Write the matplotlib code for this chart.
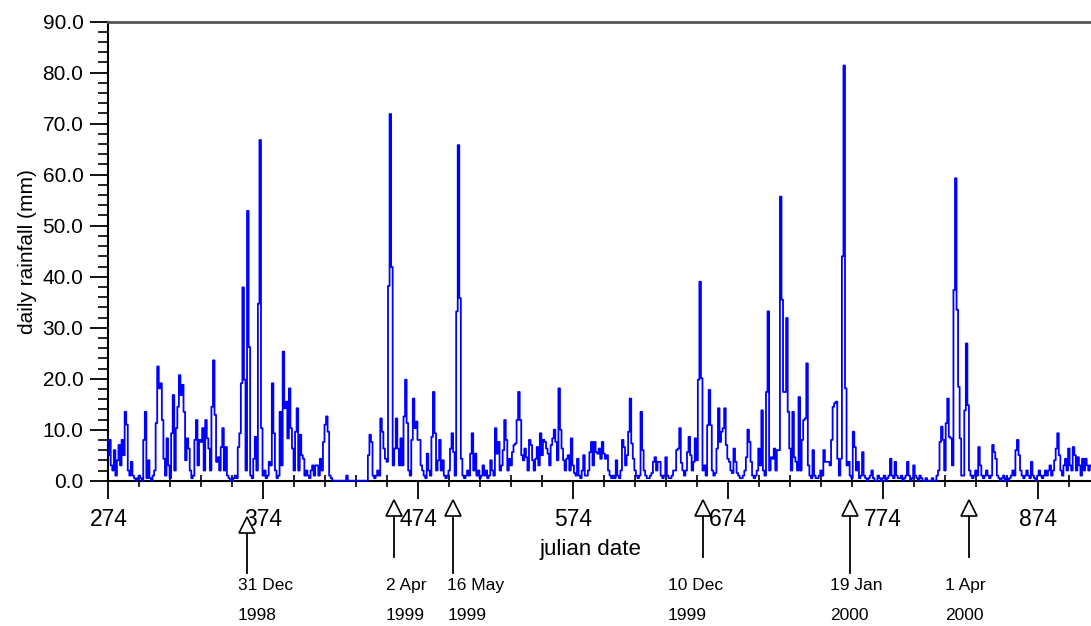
import numpy as np
import matplotlib
matplotlib.use('Agg')
import matplotlib.pyplot as plt

plt.rcParams['font.family'] = ['Liberation Sans', 'DejaVu Sans']

# daily rainfall (mm), one value per julian day starting at day 274
first_day = 274
rain = [
    5, 8, 3, 2, 6, 1, 4, 7, 3, 8,                          # 274
    5, 13.5, 11, 2, 1, 3.7, 1, 0.5, 0, 0.5,                # 284
    1, 0.5, 0, 8, 13.5, 0.5, 4, 0.5, 0, 1,                 # 294
    2, 11.3, 22.4, 18.1, 19.1, 11.9, 4.3, 1, 8.3, 3,       # 304
    0.5, 9.3, 16.8, 2, 10.3, 14.5, 20.7, 16.8, 18.8, 13.5, # 314
    4, 8.3, 6.3, 2, 0.5, 1, 8, 11.9, 3, 8,                 # 324
    7.6, 10.3, 2, 11.9, 8.3, 6.3, 2, 14.5, 23.6, 12.9,     # 334
    3.7, 4.6, 2, 6.6, 10.3, 2, 6.6, 1, 0.5, 0,             # 344
    0, 0.5, 1, 0.5, 6.6, 9.3, 19.1, 37.9, 19.8, 2,         # 354
    52.9, 26.2, 1, 0.5, 4.3, 8.6, 2, 34.7, 66.8, 10.3,     # 364
    1, 2, 0.5, 1, 3.7, 3, 19.1, 9.3, 2, 0.5,               # 374
    1, 13.5, 3, 25.3, 14.2, 15.5, 8.3, 18.1, 10.3, 6.3,    # 384
    2, 9.6, 14.2, 2, 9, 5, 4.3, 1, 2, 1,                   # 394
    0.5, 2, 3, 1, 3, 3, 1, 4.3, 2, 7.6,                    # 404
    11, 12.6, 9.6, 1, 0.5, 0, 0, 0, 0, 0,                  # 414
    0, 0, 0, 0, 1, 0, 0, 0, 0, 0,                          # 424
    0, 0, 0, 0, 0, 0, 0, 0, 5, 9,                          # 434
    7.6, 1, 0.5, 1, 2, 1, 12.2, 9.6, 6.3, 4.3,             # 444
    3.7, 38.2, 71.9, 41.9, 3, 6.3, 12.2, 6.3, 3, 8.3,      # 454
    3, 12.6, 19.8, 11.3, 2, 1, 8, 16.1, 10.3, 11.6,        # 464
    8, 8, 3, 2, 1, 0.5, 5.3, 2, 1, 8.6,                    # 474
    17.4, 9.3, 2, 4, 8, 2, 4, 1, 0.5, 1,                   # 484
    2, 6.3, 9.3, 5.6, 1, 33.2, 65.8, 35.8, 4.3, 1,         # 494
    0.5, 1, 2, 1, 5.3, 9.3, 2, 5.3, 1, 2,                  # 504
    0.5, 1, 3, 1, 2, 0.5, 1, 4, 2, 1,                      # 514
    10.3, 5.3, 7.6, 2, 3, 6, 11.9, 8, 2, 4.3,              # 524
    3, 5.6, 7, 7.3, 11.9, 17.4, 11.9, 5, 4, 6.3,           # 534
    4.6, 2, 8, 7, 4, 2, 4.3, 6.6, 3, 9.3,                  # 544
    5, 8, 7.6, 6.3, 5.3, 3, 7, 8.3, 10, 7.6,               # 554
    4, 18.1, 10, 6.3, 4, 2, 4.3, 5, 2, 8.3,                # 564
    3, 1.5, 1, 4.3, 1, 0.5, 2, 5, 1, 1,                    # 574
    2, 5.6, 7.6, 3, 7.6, 5.6, 5.3, 6.3, 4.3, 7.6,          # 584
    5.3, 4.3, 5, 2, 1, 0.5, 1, 0.5, 4, 1,                  # 594
    0.5, 2, 8, 6.6, 3, 5, 9.6, 16.1, 7.3, 4.3,             # 604
    2, 1, 0.5, 1, 13.5, 6, 2, 1, 0.5, 0.5,                 # 614
    1, 1.5, 3.7, 4.6, 2, 3.7, 3.7, 1, 0.5, 1,              # 624
    4.6, 1, 0.5, 0.5, 1, 2, 2, 6, 6.3, 10.3,               # 634
    3.5, 2, 1, 2, 5.6, 8.6, 5, 2, 3.7, 8.3,                # 644
    4, 19.8, 39, 20.1, 2, 3, 1, 10.9, 17.8, 10.9,          # 654
    2, 1, 1.5, 6.3, 14.2, 7.6, 9.6, 10.3, 14.2, 7,         # 664
    4.3, 3.7, 2, 1.5, 6.3, 3.7, 1.5, 1, 0.5, 0.5,          # 674
    1, 2, 4.6, 10, 7.6, 3.7, 1, 0.5, 1, 2,                 # 684
    6.3, 3, 13.8, 2, 1, 17.4, 33.2, 2, 4.6, 4.3,           # 694
    6.3, 2, 6, 6, 55.7, 35.5, 17.4, 17.4, 31.9, 13.5,      # 704
    6.3, 2, 13.5, 4.6, 3.7, 2, 16.4, 2, 8, 11.9,           # 714
    12.2, 23, 3, 1, 0.5, 6, 1, 0.5, 0.5, 1,                # 724
    2, 1, 6, 3.7, 3.7, 3.7, 3, 8, 14.5, 15.2,              # 734
    15.5, 4.3, 1, 4.3, 44, 81.4, 18.1, 3, 3.7, 1,          # 744
    0.5, 9.6, 6.6, 2, 3.7, 0.5, 1, 5.6, 1, 0.5,            # 754
    0, 0.5, 1, 2, 0.5, 0, 0, 1, 0.5, 0,                    # 764
    0.5, 1, 0, 0.5, 1, 4.3, 1, 0.5, 3.7, 1,                # 774
    0.5, 0.5, 1, 0, 0.5, 1, 3.7, 1, 0, 0.5,                # 784
    3, 1, 0.5, 0, 1, 0.5, 0, 0, 0.5, 0,                    # 794
    0, 0, 0.5, 0, 0, 1, 2, 7.6, 10.6, 8,                   # 804
    2, 11.3, 16.1, 8.6, 8.3, 3, 37.4, 59.3, 33.5, 18.4,    # 814
    8.3, 1, 1, 13.8, 26.9, 14.8, 2, 1, 0.5, 1,             # 824
    2, 1, 6.6, 3, 1, 0.5, 1, 2, 1, 0.5,                    # 834
    1, 7, 5.6, 4.3, 1, 0.5, 0, 0.5, 1, 0,                  # 844
    0.5, 0, 0.5, 1, 2, 1, 6, 8, 5, 2,                      # 854
    1, 0.5, 1, 2, 1, 0.5, 3.7, 1, 0.5, 0,                  # 864
    1, 2, 1, 0.5, 1, 2, 1, 2, 3, 1,                        # 874
    2, 4, 6.3, 9.3, 5, 2, 1, 3, 4.3, 2,                    # 884
    6.3, 3, 2, 6.6, 5, 2, 4.6, 3, 1, 4.3,                  # 894
    2, 4.3, 3, 2, 3,                                       # 904
]
days = np.arange(first_day, first_day + len(rain))

# marked events along the time axis
event_days = [363.3, 458.2, 496.4, 657.9, 752.8, 829.6]
event_dates = ['31 Dec', '2 Apr', '16 May', '10 Dec', '19 Jan', '1 Apr']
event_years = ['1998', '1999', '1999', '1999', '2000', '2000']

x_ticks = np.arange(274, 909, 100)
y_ticks = np.arange(0, 91, 10)

W, H = 1091, 626
fig = plt.figure(figsize=(W / 100, H / 100), dpi=100)
ax = fig.add_axes([108.4 / W, 145.3 / H, 1 - 108.4 / W, 459 / H])

ax.plot(days, rain, drawstyle='steps-mid', color='#0000ff', lw=1.3,
        clip_on=False, zorder=3)

ax.set_xlim(274, 908.3)
ax.set_ylim(0, 90)
ax.set_xticks(x_ticks)
ax.set_xticks(np.arange(274, 909, 20), minor=True)
ax.set_yticks(y_ticks)
ax.set_yticklabels(['%.1f' % v for v in y_ticks])
ax.set_yticks(np.arange(0, 91, 2), minor=True)

ax.tick_params(axis='x', which='major', direction='out', length=13, width=1.3,
               pad=7, labelsize=16.5)
ax.tick_params(axis='x', which='minor', direction='inout', length=8, width=1.2)
ax.tick_params(axis='y', which='major', direction='out', length=13, width=1.3,
               pad=5, labelsize=15)
ax.tick_params(axis='y', which='minor', direction='out', length=7, width=1.2)

ax.spines['right'].set_visible(False)
ax.spines['top'].set_color('#555555')
ax.spines['top'].set_linewidth(2)
ax.spines['left'].set_linewidth(1.5)
ax.spines['bottom'].set_linewidth(1.5)

ax.set_ylabel('daily rainfall (mm)', fontsize=15, labelpad=4)
fig.text(590 / W, 1 - 549 / H, 'julian date', fontsize=16,
         ha='center', va='center')

# triangle + arrow + two-line label under the axis (y in axes fraction)
tri_y = [-0.0965, -0.0595, -0.0595, -0.0595, -0.0595, -0.0595]
arrow_end = [-0.201, -0.167, -0.201, -0.167, -0.201, -0.167]
label_dx = [-8.8, -8, -5.6, -35, -20, -24]
trans = ax.get_xaxis_transform()
for d, ty, ye, dx, txt, yr in zip(event_days, tri_y, arrow_end, label_dx,
                                 event_dates, event_years):
    ax.plot([d, d], [ty - 0.017, ye], color='black', lw=1.3,
            transform=trans, clip_on=False)
    ax.plot([d], [ty], marker='^', ms=12, mfc='white', mec='black', mew=1.2,
            transform=trans, clip_on=False)
    tx = d + dx / 1.549
    ax.text(tx, -0.2294, txt, transform=trans, fontsize=12.5,
            ha='left', va='center')
    ax.text(tx, -0.2935, yr, transform=trans, fontsize=12.5,
            ha='left', va='center')

fig.savefig('out.png', dpi=100)
